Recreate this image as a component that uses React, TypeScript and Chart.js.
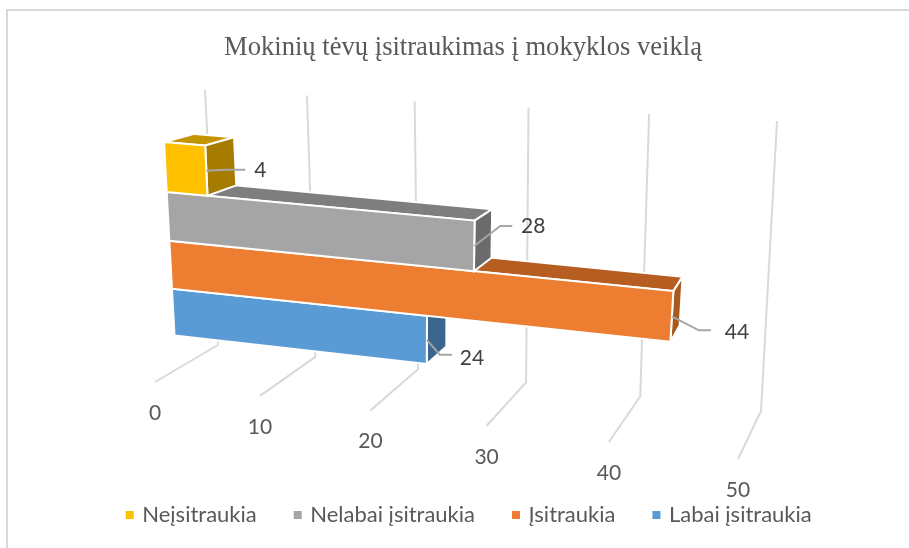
import React, { useEffect, useRef } from "react";
import { Chart, registerables } from "chart.js";

Chart.register(...registerables);

const titleText = "Mokinių tėvų įsitraukimas į mokyklos veiklą";
const categories = ["Mokinių tėvai"];
const seriesNames = ["Neįsitraukia", "Nelabai įsitraukia", "Įsitraukia", "Labai įsitraukia"];
const seriesValues = [4, 28, 44, 24];
const frontColors = ["#FFC000", "#A5A5A5", "#ED7D31", "#5B9BD5"];
const sideColors = ["#A57C00", "#6B6B6B", "#A9591E", "#3A6690"];
const topColors = ["#C49400", "#7E7E7E", "#B65E22", "#46759F"];
const axisMin = 0;
const axisMax = 50;
const axisStep = 10;

type Pt = [number, number];

// Square-to-quad projective map used for the pseudo-3D view.
function quadMap(p00: Pt, p10: Pt, p11: Pt, p01: Pt) {
  const [x0, y0] = p00, [x1, y1] = p10, [x2, y2] = p11, [x3, y3] = p01;
  const sx = x0 - x1 + x2 - x3, sy = y0 - y1 + y2 - y3;
  const dx1 = x1 - x2, dx2 = x3 - x2, dy1 = y1 - y2, dy2 = y3 - y2;
  const den = dx1 * dy2 - dx2 * dy1;
  const g = (sx * dy2 - dx2 * sy) / den;
  const h = (dx1 * sy - sx * dy1) / den;
  const a = x1 - x0 + g * x1, b = x3 - x0 + h * x3, c = x0;
  const d = y1 - y0 + g * y1, e = y3 - y0 + h * y3, f = y0;
  return (u: number, v: number): Pt => {
    const q = g * u + h * v + 1;
    return [(a * u + b * v + c) / q, (d * u + e * v + f) / q];
  };
}

// View geometry
const frontPlaneSpan = 44; // axis value at which the right side of the front-plane quad sits
const foreshortening = 0.0016; // extra compression of the value axis towards the near end
const frontPlane = quadMap([164, 142], [679.5, 186.5], [667.5, 391], [174.5, 335.5]);
const wallPlane = quadMap([218, 345], [761, 411], [777, 121], [205, 90]);
const floorPlane = quadMap([218, 345], [761, 411], [738, 459], [155, 382]);
const vanishing: Pt = [892, -51];
const depth = 0.042;
const legendShift = 7;
// Leader line layout per series: elbow offset, end offset, label offset (from bar end centre)
const leaders = [
  { elbow: [20, -1], end: [39, -1], label: [54, 0] },
  { elbow: [26, -20], end: [38, -20], label: [59, -20] },
  { elbow: [27, 14], end: [39, 14], label: [65, 16] },
  { elbow: [13, 15], end: [25, 15], label: [45, 18] },
];

const back = (p: Pt): Pt => [p[0] + (vanishing[0] - p[0]) * depth, p[1] + (vanishing[1] - p[1]) * depth];

function poly(ctx: CanvasRenderingContext2D, pts: Pt[], fill: string) {
  ctx.beginPath();
  pts.forEach((p, i) => (i ? ctx.lineTo(p[0], p[1]) : ctx.moveTo(p[0], p[1])));
  ctx.closePath();
  ctx.fillStyle = fill;
  ctx.fill();
  ctx.strokeStyle = "#FFFFFF";
  ctx.lineWidth = 2;
  ctx.lineJoin = "miter";
  ctx.stroke();
}

function barCorners(chart: any, index: number) {
  const el = chart.getDatasetMeta(index).data[0];
  const xs = chart.scales.x, area = chart.chartArea;
  const toPlane = (px: number, py: number) => {
    const v = xs.getValueForPixel(px);
    const adjusted = v * (1 - foreshortening * (frontPlaneSpan - v));
    return frontPlane(adjusted / frontPlaneSpan, (py - area.top) / area.height);
  };
  const top = el.y - el.height / 2, bottom = el.y + el.height / 2;
  return {
    tl: toPlane(el.base, top),
    tr: toPlane(el.x, top),
    br: toPlane(el.x, bottom),
    bl: toPlane(el.base, bottom),
  };
}

const view3d = {
  id: "view3d",
  afterLayout(chart: any) {
    chart.legend.left += legendShift;
    chart.legend.right += legendShift;
  },
  beforeDraw(chart: any) {
    const { ctx, width, height } = chart;
    ctx.save();
    ctx.fillStyle = "#FFFFFF";
    ctx.fillRect(0, 0, width, height);
    ctx.strokeStyle = "#D9D9D9";
    ctx.lineWidth = 2;
    ctx.beginPath();
    ctx.moveTo(7, height);
    ctx.lineTo(7, 10);
    ctx.lineTo(width, 10);
    ctx.stroke();
    ctx.restore();
  },
  beforeDatasetsDraw(chart: any) {
    const { ctx } = chart;
    const xs = chart.scales.x;
    ctx.save();
    xs.getTicks().forEach((tick: any) => {
      const u = (tick.value - axisMin) / (axisMax - axisMin);
      const a = wallPlane(u, 1), b = wallPlane(u, 0), c = floorPlane(u, 1);
      ctx.strokeStyle = "#D9D9D9";
      ctx.lineWidth = 2;
      ctx.lineJoin = "round";
      ctx.beginPath();
      ctx.moveTo(a[0], a[1]);
      ctx.lineTo(b[0], b[1]);
      ctx.lineTo(c[0], c[1]);
      ctx.stroke();
      ctx.fillStyle = "#595959";
      ctx.font = "21px Lato";
      ctx.textAlign = "center";
      ctx.textBaseline = "middle";
      ctx.fillText(String(tick.value), c[0], c[1] + 31);
    });
    ctx.restore();
  },
  beforeDatasetDraw(chart: any, args: any) {
    const i = args.index;
    const { ctx } = chart;
    const { tl, tr, br, bl } = barCorners(chart, i);
    ctx.save();
    poly(ctx, [tl, back(tl), back(tr), tr], topColors[i]);
    poly(ctx, [tr, back(tr), back(br), br], sideColors[i]);
    poly(ctx, [tl, tr, br, bl], frontColors[i]);
    ctx.restore();
    return false;
  },
  afterDatasetsDraw(chart: any) {
    const { ctx } = chart;
    ctx.save();
    seriesValues.forEach((value, i) => {
      const { tr, br } = barCorners(chart, i);
      const mid: Pt = [(tr[0] + br[0]) / 2, (tr[1] + br[1]) / 2];
      const l = leaders[i];
      ctx.strokeStyle = "#A6A6A6";
      ctx.lineWidth = 2;
      ctx.beginPath();
      ctx.moveTo(mid[0], mid[1]);
      ctx.lineTo(mid[0] + l.elbow[0], mid[1] + l.elbow[1]);
      ctx.lineTo(mid[0] + l.end[0], mid[1] + l.end[1]);
      ctx.stroke();
      ctx.fillStyle = "#404040";
      ctx.font = "21px Lato";
      ctx.textAlign = "center";
      ctx.textBaseline = "middle";
      ctx.fillText(String(value), mid[0] + l.label[0], mid[1] + l.label[1]);
    });
    ctx.restore();
  },
};

export default function App() {
  const ref = useRef<HTMLCanvasElement>(null);
  useEffect(() => {
    const chart = new Chart(ref.current!, {
      type: "bar",
      data: {
        labels: categories,
        datasets: seriesNames.map((name, i) => ({
          label: name,
          data: [seriesValues[i]],
          backgroundColor: frontColors[i],
          categoryPercentage: 1,
          barPercentage: 1,
        })),
      },
      options: {
        indexAxis: "y",
        responsive: false,
        animation: false,
        layout: { padding: { left: 17, right: 0, top: 0, bottom: 12 } },
        scales: {
          x: { display: false, min: axisMin, max: axisMax, ticks: { stepSize: axisStep } },
          y: { display: false },
        },
        plugins: {
          title: {
            display: true,
            text: titleText,
            color: "#595959",
            font: { family: "'Liberation Serif'", size: 26.6, weight: "normal" },
            padding: { top: 32, bottom: 10 },
          },
          legend: {
            position: "bottom",
            labels: {
              usePointStyle: true,
              pointStyle: "rect",
              boxWidth: 3,
              boxHeight: 8,
              padding: 39.5,
              color: "#595959",
              font: { family: "Lato", size: 22 },
            },
          },
          tooltip: { enabled: false },
        },
      },
      plugins: [view3d],
    } as any);
    return () => chart.destroy();
  }, []);
  return (
    <div style={{ position: "absolute", left: 0, top: 0, width: 909, height: 548 }}>
      <canvas ref={ref} width={909} height={548} style={{ display: "block" }} />
    </div>
  );
}
